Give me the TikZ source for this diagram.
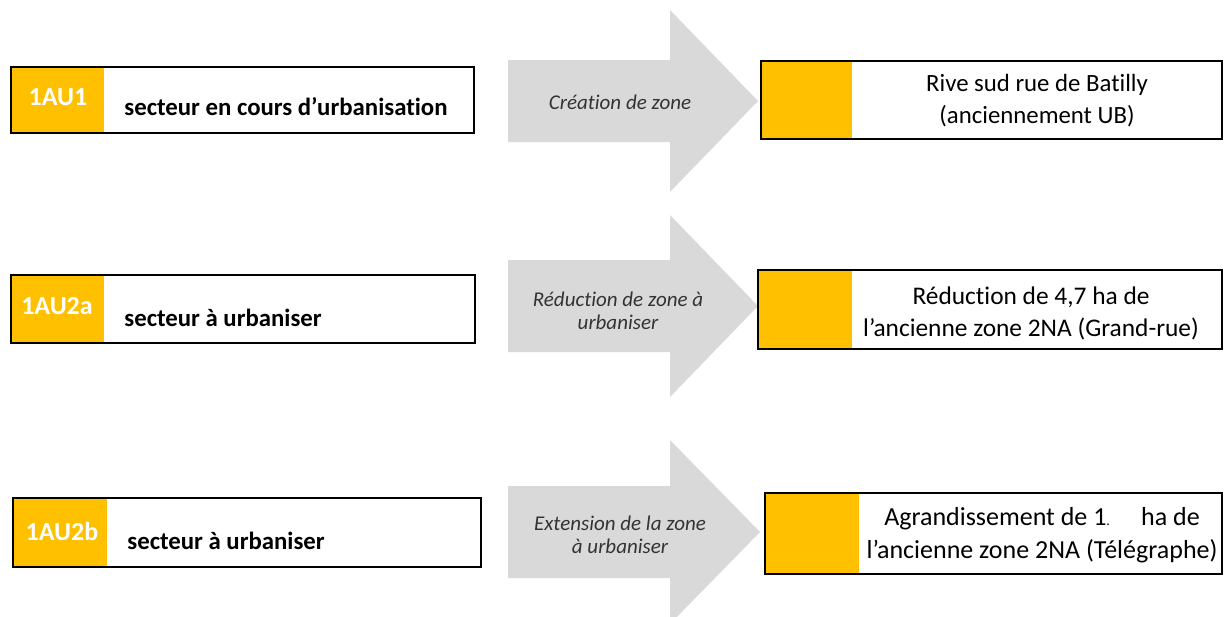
\documentclass[tikz,border=0pt]{standalone}
\usepackage{fontspec}
\setmainfont[Ligatures=NoCommon]{Carlito}
\usepackage{tikz}
\definecolor{zoneyellow}{HTML}{FFC000}
\definecolor{arrowgray}{HTML}{D9D9D9}
\definecolor{arrowtext}{HTML}{333333}

\begin{document}
\begin{tikzpicture}[x=0.5pt,y=-0.5pt,
    code/.style={text=white,font=\fontsize{13}{14}\selectfont\bfseries,inner sep=0pt},
    sector/.style={anchor=west,font=\fontsize{12.4}{14}\selectfont\bfseries,inner sep=0pt},
    change/.style={text=arrowtext,align=center,font=\fontsize{10.5}{11.5}\selectfont\itshape,inner sep=0pt},
    result/.style={align=center,font=\fontsize{12.4}{16}\selectfont,inner sep=0pt}]
  \useasboundingbox (0,0) rectangle (1224,616);

  % grey block arrows
  \foreach \yc/\sh/\hh/\tip in {101/41/91/758, 306/46/91/758, 532/46/92/760}{
    \fill[arrowgray] (508,\yc-\sh) -- (670,\yc-\sh) -- (670,\yc-\hh) -- (\tip,\yc)
      -- (670,\yc+\hh) -- (670,\yc+\sh) -- (508,\yc+\sh) -- cycle;}

  % boxes: left, top, right, bottom, end of yellow part
  \foreach \xa/\ya/\xb/\yb/\xt in {11/67/474/133/104, 11/275/475/343/104, 13/498/481/567/107,
                                   761/61/1222/139/852, 758/270/1222/349/852, 765/493/1222/574/859}{
    \fill[white] (\xa,\ya) rectangle (\xb,\yb);
    \fill[zoneyellow] (\xa,\ya) rectangle (\xt,\yb);
    \draw[line width=1.1pt] (\xa,\ya) rectangle (\xb,\yb);}

  % left column
  \node[code] (c1) at (58,97) {1AU1};
  \node[sector] (s1) at (124,107) {secteur en cours d’urbanisation};
  \node[code] (c2) at (57,306) {1AU2a};
  \node[sector] (s2) at (124,318) {secteur à urbaniser};
  \node[code] (c3) at (62,531) {1AU2b};
  \node[sector] (s3) at (127,541) {secteur à urbaniser};

  % arrow labels
  \node[change] (a1) at (620,102) {Création de zone};
  \node[change] (a2) at (618,311) {Réduction de zone à\\urbaniser};
  \node[change] (a3) at (620,535) {Extension de la zone\\à urbaniser};

  % right column
  \node[result] (r1) at (1037,101) {Rive sud rue de Batilly\\(anciennement UB)};
  \node[result,font=\fontsize{12.7}{16}\selectfont] (r2) at (1031,313) {Réduction de 4,7 ha de\\l’ancienne zone 2NA (Grand-rue)};
  \node[result,font=\fontsize{13}{16.5}\selectfont] (r3) at (1042,535) {Agrandissement de 1{\scriptsize.}\hspace{1.2em}ha de\\l’ancienne zone 2NA (Télégraphe)};
\end{tikzpicture}
\end{document}
